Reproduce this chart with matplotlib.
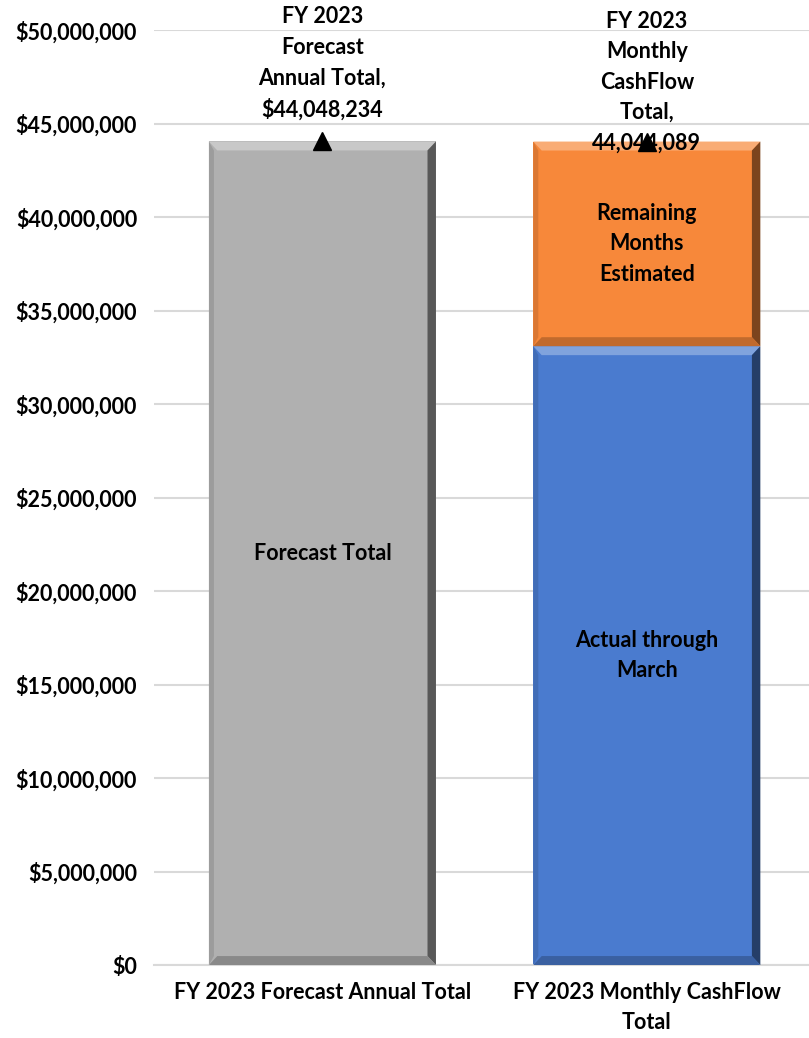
import matplotlib
matplotlib.use("Agg")
import matplotlib.pyplot as plt
from matplotlib.ticker import FuncFormatter
from matplotlib.patches import Polygon
import numpy as np

plt.rcParams['font.family'] = ['Lato', 'DejaVu Sans']

categories = ["FY 2023 Forecast Annual Total", "FY 2023 Monthly CashFlow\nTotal"]
forecast_total = [44048234, 0]
actual_through_march = [0, 33100000]
remaining_estimated = [0, 10944089]
totals = [44048234, 44044089]
total_labels = ["FY 2023\nForecast\nAnnual Total,\n$44,048,234",
                "FY 2023\nMonthly\nCashFlow\nTotal,\n44,044,089"]

fig = plt.figure(figsize=(8.09, 10.38), dpi=100)
ax = fig.add_axes([0.19, 0.0703, 0.81, 0.9006])

x = np.arange(len(categories))
width = 0.70

gray = "#B0B0B0"
blue = "#4A7BCF"
orange = "#F7883A"
FS = 15.5
LS = 1.56

def bevel(ax, xc, bottom, height, color):
    if height <= 0:
        return
    x0, x1 = xc - width / 2, xc + width / 2
    y0, y1 = bottom, bottom + height
    bw = 0.026
    bh = 480000
    rgb = np.array(matplotlib.colors.to_rgb(color))
    light = tuple(np.clip(rgb + (1 - rgb) * 0.3, 0, 1))
    dark = tuple(rgb * 0.5)
    mid = tuple(rgb * 0.78)
    ax.add_patch(Polygon([[x0, y1], [x1, y1], [x1 - bw, y1 - bh], [x0 + bw, y1 - bh]],
                         closed=True, facecolor=light, edgecolor='none', zorder=3))
    ax.add_patch(Polygon([[x1, y1], [x1, y0], [x1 - bw, y0 + bh], [x1 - bw, y1 - bh]],
                         closed=True, facecolor=dark, edgecolor='none', zorder=3))
    ax.add_patch(Polygon([[x0, y0], [x1, y0], [x1 - bw, y0 + bh], [x0 + bw, y0 + bh]],
                         closed=True, facecolor=mid, edgecolor='none', zorder=3))
    ax.add_patch(Polygon([[x0, y1], [x0, y0], [x0 + bw * 0.6, y0 + bh], [x0 + bw * 0.6, y1 - bh]],
                         closed=True, facecolor=mid, edgecolor='none', zorder=3, alpha=0.5))

ax.bar(x, forecast_total, width, color=gray, zorder=2)
ax.bar(x, actual_through_march, width, color=blue, zorder=2)
ax.bar(x, remaining_estimated, width, bottom=actual_through_march, color=orange, zorder=2)

for i in range(len(x)):
    bevel(ax, x[i], 0, forecast_total[i], gray)
    bevel(ax, x[i], 0, actual_through_march[i], blue)
    bevel(ax, x[i], actual_through_march[i], remaining_estimated[i], orange)

ax.plot(x, totals, linestyle='none', marker='^', color='black', markersize=13, zorder=5)

ax.text(x[0], forecast_total[0] / 2, "Forecast Total", ha='center', va='center',
        fontsize=FS, fontweight='bold', zorder=6)
ax.text(x[1], actual_through_march[1] / 2, "Actual through\nMarch", ha='center', va='center',
        fontsize=FS, fontweight='bold', zorder=6, linespacing=LS)
ax.text(x[1], actual_through_march[1] + remaining_estimated[1] / 2, "Remaining\nMonths\nEstimated",
        ha='center', va='center', fontsize=FS, fontweight='bold', zorder=6, linespacing=LS)

ax.text(x[0], totals[0] + 1100000, total_labels[0], ha='center', va='bottom',
        fontsize=FS, fontweight='bold', zorder=6, linespacing=LS)
ax.text(x[1], totals[1] - 650000, total_labels[1], ha='center', va='bottom',
        fontsize=FS, fontweight='bold', zorder=6, linespacing=LS)

ax.set_ylim(0, 50000000)
ax.set_xlim(-0.52, 1.5)
ax.set_yticks(np.arange(0, 50000001, 5000000))
ax.yaxis.set_major_formatter(FuncFormatter(lambda v, p: "${:,.0f}".format(v)))
ax.set_xticks(x)
ax.set_xticklabels(categories, fontsize=FS, fontweight='bold', linespacing=LS)
for lbl in ax.get_yticklabels():
    lbl.set_fontweight('bold')
    lbl.set_fontsize(FS)
ax.tick_params(axis='x', length=0, pad=12)
ax.tick_params(axis='y', length=0, pad=12)
ax.grid(axis='y', color='#D9D9D9', linewidth=1.5, zorder=0)
ax.set_axisbelow(True)
for s in ['top', 'right', 'left']:
    ax.spines[s].set_visible(False)
ax.spines['bottom'].set_color('#D9D9D9')
ax.spines['bottom'].set_linewidth(1.5)

fig.savefig("out.png", dpi=100)
